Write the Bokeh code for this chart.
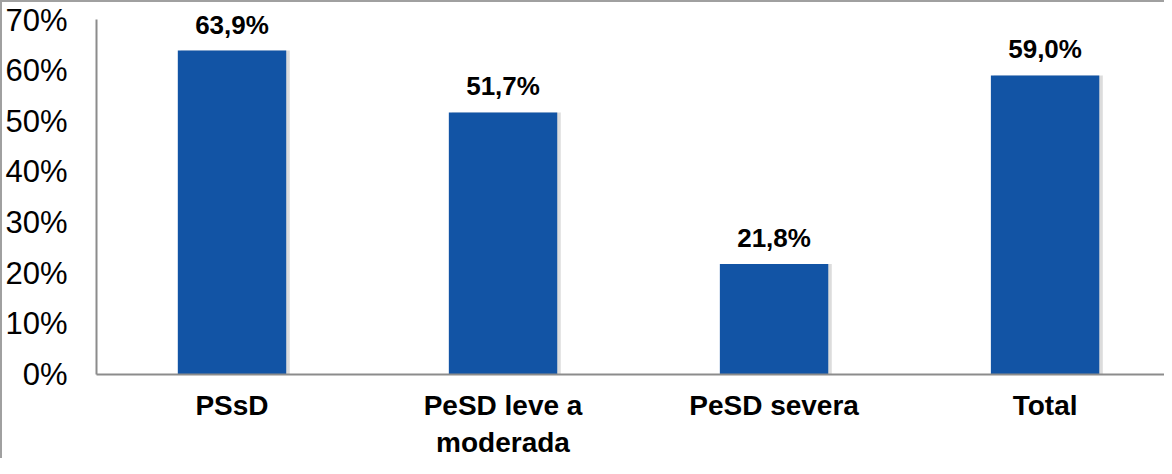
from bokeh.plotting import figure
from bokeh.embed import file_html
from bokeh.resources import INLINE
from bokeh.models import Range1d, FixedTicker, NumeralTickFormatter, ColumnDataSource
from bokeh.core.properties import value

categories = ["PSsD", "PeSD leve a\nmoderada", "PeSD severa", "Total"]
values = [0.639, 0.517, 0.218, 0.590]
value_labels = ["63,9%", "51,7%", "21,8%", "59,0%"]
y_ticks = [0.0, 0.1, 0.2, 0.3, 0.4, 0.5, 0.6, 0.7]

xs = list(range(len(categories)))
src = ColumnDataSource(dict(x=xs, top=values, lab=value_labels,
                            xs=[x + 0.012 for x in xs]))

p = figure(width=1164, height=458, output_backend="svg", toolbar_location=None,
           x_range=Range1d(-0.5, 3.448), y_range=Range1d(0, 0.73),
           min_border_left=94, min_border_right=0, min_border_top=2, min_border_bottom=84)
p.styles = {"border-left": "2px solid #a0a0a0", "border-top": "2px solid #a0a0a0",
            "box-sizing": "border-box"}
p.outline_line_color = None
p.xgrid.grid_line_color = None
p.ygrid.grid_line_color = None
p.background_fill_color = "white"
p.border_fill_color = "white"

# soft shadow
p.vbar(x="xs", top="top", width=0.402, bottom=-0.004, source=src,
       fill_color="#9a9a9a", fill_alpha=0.35, line_color=None)
p.vbar(x="x", top="top", width=0.40, source=src,
       fill_color="#1254A5", line_color=None)

p.text(x="x", y="top", text="lab", source=src, text_align="center",
       text_baseline="alphabetic", y_offset=-26,
       text_font=value("Liberation Sans"), text_font_style="bold",
       text_font_size="26px", text_color="black")

p.yaxis.ticker = FixedTicker(ticks=y_ticks)
p.yaxis.bounds = (0, 0.7)
p.yaxis.formatter = NumeralTickFormatter(format="0%")
p.yaxis.major_label_text_font = "Liberation Sans"
p.yaxis.major_label_text_font_size = "31px"
p.yaxis.major_label_text_color = "black"
p.yaxis.major_tick_line_color = None
p.yaxis.minor_tick_line_color = None
p.yaxis.major_label_standoff = 23
p.yaxis.axis_line_color = "#8c8c8c"
p.yaxis.axis_line_width = 2

p.xaxis.ticker = FixedTicker(ticks=xs)
p.xaxis.major_label_overrides = {i: c for i, c in zip(xs, categories)}
p.xaxis.major_label_text_font = "Liberation Sans"
p.xaxis.major_label_text_font_style = "bold"
p.xaxis.major_label_text_font_size = "28px"
p.xaxis.major_label_text_color = "black"
p.xaxis.major_tick_line_color = None
p.xaxis.minor_tick_line_color = None
p.xaxis.major_label_standoff = 9
p.xaxis.axis_line_color = "#8c8c8c"
p.xaxis.axis_line_width = 2

open("out.html", "w").write(file_html(p, INLINE))
